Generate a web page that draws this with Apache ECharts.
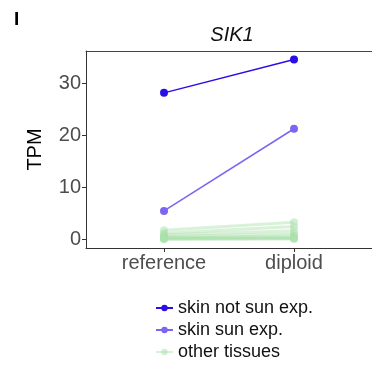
<!DOCTYPE html>
<html>
<head>
<meta charset="utf-8">
<script src="https://cdn.jsdelivr.net/npm/echarts@6/dist/echarts.min.js"></script>
<style>
  html, body { margin: 0; padding: 0; background: #fff; }
  #chart { width: 372px; height: 366px; }
</style>
</head>
<body>
<div id="chart"></div>
<script>
// Expression of SIK1 (TPM), reference vs diploid assembly
const categories = ['reference', 'diploid'];
const yTicks = [0, 10, 20, 30];

const skinNotSunExp = [28.2, 34.6];
const skinSunExp = [5.5, 21.3];
// one pair of values per remaining tissue
const otherTissues = [
  [1.8, 3.3],
  [1.2, 2.5],
  [0.9, 1.7],
  [0.6, 1.1],
  [0.4, 0.7],
  [0.2, 0.4],
  [0.1, 0.2],
  [0.3, 0.3],
  [0.05, 0.1]
];

const FONT = '"Liberation Sans", Arial, sans-serif';
const toPoints = vals => vals.map((v, i) => [i, v]);

const series = [];
otherTissues.forEach(vals => {
  series.push({
    name: 'other tissues',
    type: 'line',
    data: toPoints(vals),
    symbol: 'circle',
    symbolSize: 8,
    lineStyle: { color: 'rgba(170,225,170,0.45)', width: 3 },
    itemStyle: { color: 'rgba(170,225,170,0.5)' },
    z: 2
  });
});
series.push({
  name: 'skin sun exp.',
  type: 'line',
  data: toPoints(skinSunExp),
  symbol: 'circle',
  symbolSize: 8,
  lineStyle: { color: '#7a66f2', width: 1.5 },
  itemStyle: { color: '#7a66f2' },
  z: 3
});
series.push({
  name: 'skin not sun exp.',
  type: 'line',
  data: toPoints(skinNotSunExp),
  symbol: 'circle',
  symbolSize: 8,
  lineStyle: { color: '#2a0ee6', width: 1.5 },
  itemStyle: { color: '#2a0ee6' },
  z: 4
});

const chart = echarts.init(document.getElementById('chart'), null, { renderer: 'canvas' });
chart.setOption({
  animation: false,
  backgroundColor: '#fff',
  title: [
    {
      text: 'SIK1',
      left: 227, top: 20, textAlign: 'center',
      textStyle: { fontFamily: FONT, fontStyle: 'italic', fontWeight: 'normal', fontSize: 20, color: '#111' }
    },
    {
      text: 'I',
      left: 9, top: 5,
      textStyle: { fontFamily: FONT, fontWeight: 'bold', fontSize: 19, color: '#000' }
    }
  ],
  // the panel runs past the right edge of the canvas, so only top, left and bottom edges show
  grid: { left: 86, right: -4, top: 51, bottom: 118, show: false },
  xAxis: [
    {
      type: 'value',
      min: -0.6, max: 1.6,
      splitLine: { show: false },
      axisLine: { show: true, onZero: false, lineStyle: { color: '#333', width: 1 } },
      axisTick: { show: true, length: 4, lineStyle: { color: '#333' }, customValues: [0, 1] },
      axisLabel: {
        customValues: [0, 1],
        formatter: v => categories[Math.round(v)] || '',
        fontFamily: FONT, fontSize: 20, color: '#4d4d4d', margin: 5
      }
    },
    {
      type: 'value',
      position: 'top',
      min: -0.6, max: 1.6,
      splitLine: { show: false },
      axisLine: { show: true, onZero: false, lineStyle: { color: '#444', width: 1 } },
      axisTick: { show: false },
      axisLabel: { show: false }
    }
  ],
  yAxis: {
    type: 'value',
    min: -1.63, max: 36.25,
    name: 'TPM',
    nameLocation: 'middle',
    nameGap: 41,
    nameRotate: 90,
    nameTextStyle: { fontFamily: FONT, fontSize: 20, color: '#000' },
    splitLine: { show: false },
    axisLine: { show: true, onZero: false, lineStyle: { color: '#333', width: 1 } },
    axisTick: { show: true, length: 4, lineStyle: { color: '#333' }, customValues: yTicks },
    axisLabel: { customValues: yTicks, fontFamily: FONT, fontSize: 20, color: '#4d4d4d', margin: 5 }
  },
  legend: {
    orient: 'vertical',
    left: 150, top: 294,
    itemWidth: 17, itemHeight: 8,
    itemGap: 4,
    data: ['skin not sun exp.', 'skin sun exp.', 'other tissues'],
    textStyle: { fontFamily: FONT, fontSize: 18, color: '#111', padding: [0, 0, 0, 0] }
  },
  series: series
});
</script>
</body>
</html>
